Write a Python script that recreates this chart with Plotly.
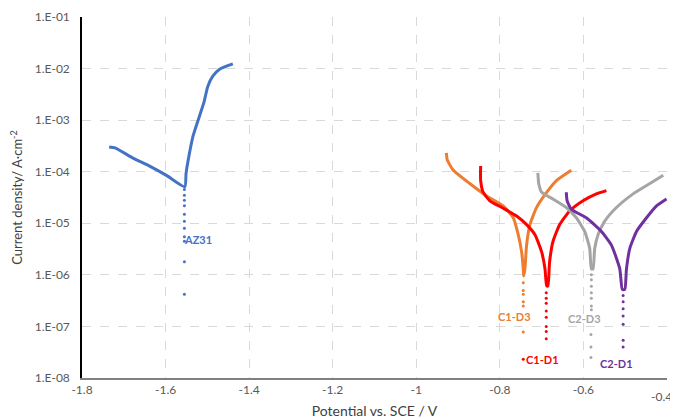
import math
import plotly.graph_objects as go

# ---- data ----
az31_x = [-1.735, -1.721, -1.678, -1.637, -1.597, -1.554, -1.551, -1.546, -1.534, -1.518, -1.508, -1.499, -1.487, -1.470, -1.439]
az31_y = [3.03e-4, 2.90e-4, 1.84e-4, 1.27e-4, 8.4e-5, 5.1e-5, 9.3e-5, 1.66e-4, 5.0e-4, 1.26e-3, 2.24e-3, 4.5e-3, 7.1e-3, 9.8e-3, 1.23e-2]
az31_dot_x = [-1.555, -1.555, -1.555, -1.555, -1.555, -1.555, -1.555, -1.555, -1.555, -1.555, -1.555]
az31_dot_y = [4.5e-5, 3.5e-5, 2.8e-5, 2.2e-5, 1.5e-5, 1.1e-5, 8e-6, 5.5e-6, 4.5e-6, 1.8e-6, 4.2e-7]

c1d3_x = [-0.928, -0.926, -0.912, -0.872, -0.832, -0.792, -0.768, -0.756, -0.748, -0.744, -0.743, -0.740, -0.736, -0.728, -0.712, -0.688, -0.664, -0.629]
c1d3_y = [2.31e-4, 1.70e-4, 1.08e-4, 5.9e-5, 3.4e-5, 2.17e-5, 1.28e-5, 6.0e-6, 2.79e-6, 1.31e-6, 9.5e-7, 1.31e-6, 3.8e-6, 9.4e-6, 2.04e-5, 3.98e-5, 6.8e-5, 1.07e-4]
c1d3_dot_x = [-0.744, -0.744, -0.744, -0.744, -0.744, -0.744]
c1d3_dot_y = [7e-7, 5e-7, 4.2e-7, 3e-7, 2.5e-7, 7.8e-8]

c1d1_x = [-0.846, -0.846, -0.840, -0.824, -0.792, -0.760, -0.736, -0.716, -0.700, -0.692, -0.688, -0.685, -0.681, -0.673, -0.657, -0.633, -0.601, -0.569, -0.545]
c1d1_y = [1.29e-4, 6.8e-5, 4.0e-5, 2.73e-5, 1.96e-5, 1.38e-5, 9.4e-6, 6.0e-6, 2.79e-6, 1.31e-6, 6.1e-7, 6.1e-7, 1.77e-6, 4.4e-6, 9.4e-6, 1.73e-5, 2.73e-5, 3.72e-5, 4.3e-5]
c1d1_dot_x = [-0.689, -0.689, -0.689, -0.689, -0.689, -0.689, -0.689, -0.689, -0.744]
c1d1_dot_y = [4.5e-7, 3.5e-7, 2.8e-7, 2e-7, 1.5e-7, 1e-7, 8e-8, 5.8e-8, 2.3e-8]

c2d3_x = [-0.709, -0.707, -0.700, -0.673, -0.641, -0.617, -0.597, -0.585, -0.581, -0.577, -0.573, -0.565, -0.549, -0.521, -0.481, -0.441, -0.409]
c2d3_y = [9.5e-5, 5.9e-5, 4.0e-5, 2.95e-5, 2.02e-5, 1.28e-5, 6.95e-6, 3.26e-6, 1.31e-6, 1.31e-6, 3.26e-6, 6.0e-6, 1.10e-5, 2.02e-5, 3.72e-5, 5.9e-5, 8.55e-5]
c2d3_dot_x = [-0.581, -0.581, -0.581, -0.581, -0.581, -0.581, -0.581, -0.582, -0.582, -0.582]
c2d3_dot_y = [1e-6, 8e-7, 6e-7, 4.5e-7, 3.5e-7, 2.5e-7, 2.1e-7, 7e-8, 4e-8, 2.5e-8]

c2d1_x = [-0.641, -0.639, -0.629, -0.593, -0.557, -0.533, -0.513, -0.507, -0.501, -0.497, -0.489, -0.473, -0.449, -0.425, -0.401]
c2d1_y = [4.0e-5, 2.73e-5, 1.87e-5, 1.28e-5, 6.95e-6, 3.78e-6, 1.31e-6, 5.2e-7, 5.2e-7, 1.31e-6, 3.26e-6, 6.95e-6, 1.28e-5, 2.17e-5, 2.95e-5]
c2d1_dot_x = [-0.505, -0.505, -0.505, -0.505, -0.505, -0.505, -0.505]
c2d1_dot_y = [4e-7, 3e-7, 2.2e-7, 1.6e-7, 1.1e-7, 5.4e-8, 4e-8]

x_ticks = [-1.8, -1.6, -1.4, -1.2, -1.0, -0.8, -0.6, -0.4]
x_ticktext = ["-1.8", "-1.6", "-1.4", "-1.2", "-1", "-0.8", "-0.6", "-0.4"]
y_ticks = [1e-8, 1e-7, 1e-6, 1e-5, 1e-4, 1e-3, 1e-2, 1e-1]
y_ticktext = ["1.E-08", "1.E-07", "1.E-06", "1.E-05", "1.E-04", "1.E-03", "1.E-02", "1.E-01"]

series = [
    ("AZ31", az31_x, az31_y, az31_dot_x, az31_dot_y, "#4472C4", -1.522, 4.8e-6),
    ("C1-D3", c1d3_x, c1d3_y, c1d3_dot_x, c1d3_dot_y, "#ED7D31", -0.764, 1.55e-7),
    ("C1-D1", c1d1_x, c1d1_y, c1d1_dot_x, c1d1_dot_y, "#FF0000", -0.698, 2.3e-8),
    ("C2-D3", c2d3_x, c2d3_y, c2d3_dot_x, c2d3_dot_y, "#A5A5A5", -0.598, 1.4e-7),
    ("C2-D1", c2d1_x, c2d1_y, c2d1_dot_x, c2d1_dot_y, "#7030A0", -0.520, 1.95e-8),
]

fig = go.Figure()
annotations = []
for name, xs, ys, dx, dy, col, lx, ly in series:
    fig.add_trace(go.Scatter(x=xs, y=ys, mode="lines", line=dict(color=col, width=3, shape="spline", smoothing=0.5),
                             name=name, showlegend=False, hoverinfo="skip"))
    fig.add_trace(go.Scatter(x=dx, y=dy, mode="markers", marker=dict(color=col, size=3),
                             name=name, showlegend=False, hoverinfo="skip"))
    annotations.append(dict(x=lx, y=math.log10(ly), yref="y", xref="x", text="<b>%s</b>" % name, showarrow=False,
                            font=dict(color=col, size=11, family="Lato"), xanchor="center", yanchor="middle"))

# last x tick label drawn right-anchored so it stays inside the window
tick_labels_axis = list(x_ticktext[:-1]) + [""]
annotations.append(dict(x=x_ticks[-1], y=0, xref="x", yref="paper", text=x_ticktext[-1], showarrow=False,
                        xanchor="right", yanchor="middle", xshift=7, yshift=-18,
                        font=dict(size=12, color="#595959", family="Lato")))

# the page body adds an 8px margin; sizes/margins compensate for it
fig.update_layout(
    width=678, height=411,
    margin=dict(l=74, r=19, t=9, b=41, autoexpand=False),
    plot_bgcolor="white", paper_bgcolor="white",
    font=dict(family="Lato", color="#404040"),
    annotations=annotations,
    xaxis=dict(range=[-1.8, -0.4], tickvals=x_ticks, ticktext=tick_labels_axis, automargin=False,
               showgrid=True, gridcolor="#D9D9D9", griddash="dash", gridwidth=1,
               showline=True, linecolor="#808080", linewidth=2, zeroline=False,
               ticks="", tickfont=dict(size=12, color="#595959"),
               title=dict(text="Potential vs. SCE / V", font=dict(size=14, color="#404040"), standoff=14)),
    yaxis=dict(type="log", range=[-8, -1], tickvals=y_ticks, ticktext=y_ticktext, automargin=False,
               showgrid=True, gridcolor="#D9D9D9", griddash="dash", gridwidth=1,
               showline=True, linecolor="#000000", linewidth=1.5, zeroline=False,
               ticks="", tickfont=dict(size=12, color="#595959"), ticklabelstandoff=8,
               title=dict(text="Current density/ A·cm<sup>-2</sup>", font=dict(size=13, color="#404040"), standoff=12)),
)

fig.write_html("out.html")
